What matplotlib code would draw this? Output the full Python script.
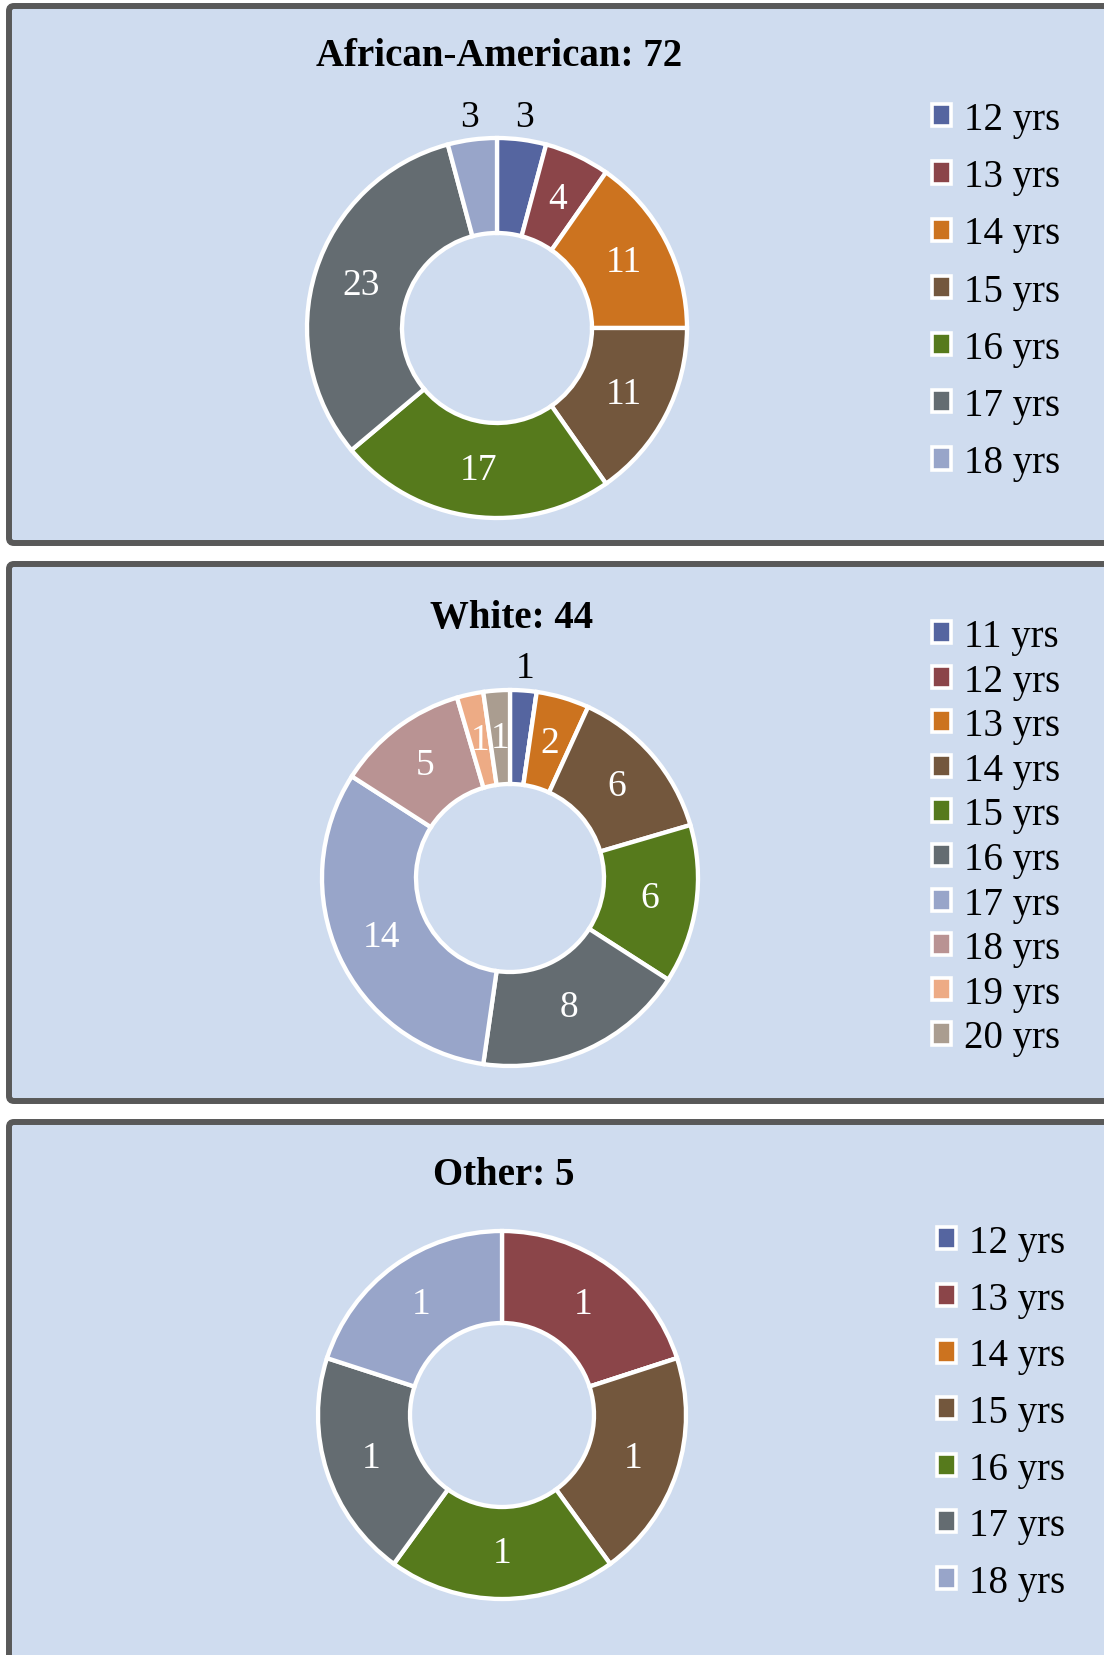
import math
import matplotlib.pyplot as plt
from matplotlib.patches import FancyBboxPatch, Patch

plt.rcParams['font.family'] = ['Liberation Serif', 'DejaVu Serif']

# African-American
aa_ages = ['12 yrs', '13 yrs', '14 yrs', '15 yrs', '16 yrs', '17 yrs', '18 yrs']
aa_counts = [3, 4, 11, 11, 17, 23, 3]

# White
wh_ages = ['11 yrs', '12 yrs', '13 yrs', '14 yrs', '15 yrs', '16 yrs',
           '17 yrs', '18 yrs', '19 yrs', '20 yrs']
wh_counts = [1, 0, 2, 6, 6, 8, 14, 5, 1, 1]

# Other
ot_ages = ['12 yrs', '13 yrs', '14 yrs', '15 yrs', '16 yrs', '17 yrs', '18 yrs']
ot_counts = [0, 1, 0, 1, 1, 1, 1]

palette = ['#5565A0', '#8B4549', '#CC731F', '#73573D', '#567A1C',
           '#646C71', '#98A5C9', '#B99393', '#EDAB85', '#AA9D90']

W, H = 1104, 1656
fig = plt.figure(figsize=(W / 100, H / 100), dpi=100)

bg = fig.add_axes([0, 0, 1, 1])
bg.set_xlim(0, W)
bg.set_ylim(H, 0)
bg.axis('off')

# panel boxes (top, bottom in pixels)
for top, bottom in [(7, 544), (565, 1102), (1123, 1720)]:
    bg.add_patch(FancyBboxPatch((9, top), 1130, bottom - top,
                                boxstyle='round,pad=0,rounding_size=5',
                                fc='#CFDCEF', ec='#595959', lw=4.3))


def donut(cx, cy, R, ages, counts, title, ty, outside, leg_x, leg_y, spacing):
    pad = 1.3
    size = 2 * R * pad
    ax = fig.add_axes([(cx - R * pad) / W, 1 - (cy + R * pad) / H, size / W, size / H])
    cols = palette[:len(counts)]
    wedges, _ = ax.pie(counts, colors=cols, startangle=90, counterclock=False,
                       radius=1, wedgeprops=dict(width=0.5, edgecolor='white', linewidth=3.1))
    ax.set_xlim(-pad, pad)
    ax.set_ylim(-pad, pad)
    ax.axis('off')

    for i, (w, v) in enumerate(zip(wedges, counts)):
        if v == 0:
            continue
        ang = math.radians((w.theta1 + w.theta2) / 2)
        if i in outside:
            r, c = 1.12, 'black'
        else:
            r, c = 0.75, 'white'
        ax.text(r * math.cos(ang), r * math.sin(ang), str(v), ha='center',
                va='center', color=c, fontsize=27)

    bg.text(cx + 2, ty, title, ha='center', va='center', fontsize=28, weight='bold')

    handles = [Patch(facecolor=c, edgecolor='white', linewidth=2.6) for c in cols]
    ax.legend(handles, ages, loc='upper left', bbox_to_anchor=(leg_x / W, 1 - leg_y / H),
              bbox_transform=fig.transFigure, frameon=False, fontsize=28,
              handlelength=0.5, handleheight=0.5, handletextpad=0.33,
              labelspacing=spacing, borderpad=0, borderaxespad=0)


donut(497, 329, 190, aa_ages, aa_counts, 'African-American: 72', 56, [0, 6], 932, 102, 0.52)
donut(510, 879, 188, wh_ages, wh_counts, 'White: 44', 619, [0], 932, 619, 0.195)
donut(502, 1416, 184, ot_ages, ot_counts, 'Other: 5', 1176, [], 937, 1225, 0.505)

fig.savefig('out.png', dpi=100)
